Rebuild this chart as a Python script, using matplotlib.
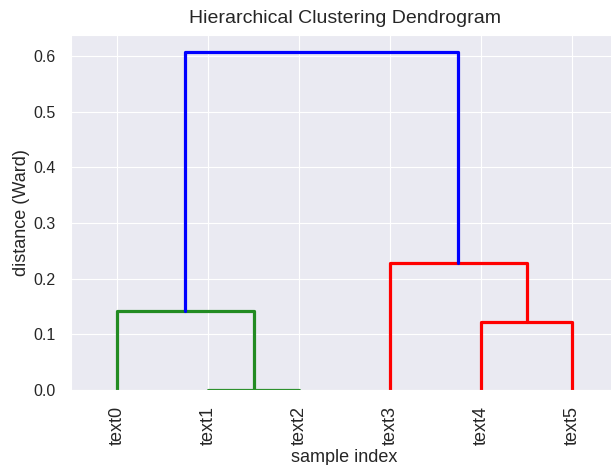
import matplotlib
matplotlib.use('Agg')
import matplotlib.pyplot as plt
import seaborn as sns

labels = ['text0', 'text1', 'text2', 'text3', 'text4', 'text5']
# merges: left node, right node, distance, colour (nodes 6.. are the merged clusters)
left = [1, 4, 0, 3, 8]
right = [2, 5, 6, 7, 9]
dist = [0.0, 0.122, 0.142, 0.228, 0.607]
colors = ['forestgreen', 'red', 'forestgreen', 'red', 'blue']

sns.set_style('darkgrid')
plt.rcParams['font.family'] = ['Liberation Sans', 'DejaVu Sans']

fig = plt.figure(figsize=(6.11, 4.65), dpi=100)
ax = fig.add_axes([0.117, 0.161, 0.894, 0.763])

xs = [10 * k + 5 for k in range(len(labels))]
hs = [0.0] * len(labels)
for a, b, d, c in zip(left, right, dist, colors):
    ax.plot([xs[a], xs[a], xs[b], xs[b]], [hs[a], d, d, hs[b]], color=c, lw=2.3)
    xs.append((xs[a] + xs[b]) / 2)
    hs.append(d)

ax.set_xlim(0, 10 * len(labels))
ax.set_ylim(0, max(dist) * 1.05)
ax.set_xticks([10 * k + 5 for k in range(len(labels))])
ax.set_xticklabels(labels, rotation=90, fontsize=13)
ax.tick_params(axis='y', labelsize=11.5, pad=8)
ax.tick_params(axis='x', pad=8)
ax.set_title('Hierarchical Clustering Dendrogram', fontsize=14, pad=9)
ax.set_xlabel('sample index', fontsize=13, labelpad=3)
ax.set_ylabel('distance (Ward)', fontsize=13, labelpad=2)

fig.savefig('out.png')
